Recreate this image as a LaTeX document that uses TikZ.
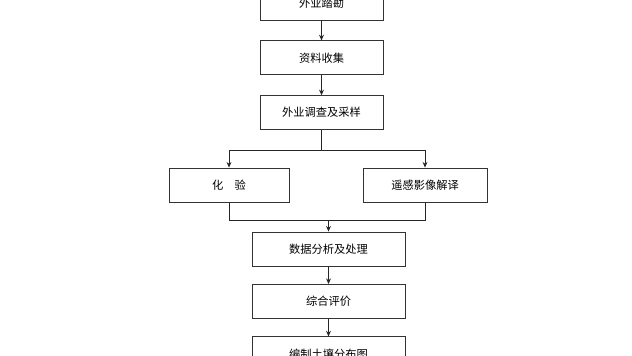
\documentclass[tikz,border=0pt]{standalone}
\usepackage{fontspec}
\newfontfamily\cjk{Noto Sans CJK SC}
\usepackage{tikz}
\usetikzlibrary{arrows.meta, positioning, calc}

\begin{document}
\begin{tikzpicture}[
    node distance=0.5cm,
    stepbox/.style={rectangle, draw=black!80, line width=0.6pt, minimum height=0.85cm, minimum width=3.075cm, align=center, font=\cjk\footnotesize},
    widebox/.style={stepbox, minimum width=3.825cm},
    arrowstyle/.style={-{Stealth[length=4pt,width=3.5pt]}, line width=0.6pt, black!85},
    linestyle/.style={line width=0.6pt, black!85}
]
\useasboundingbox (0,0) rectangle (15.8,-8.9);

\node[stepbox] (survey) at (8.0375,-0.075) {外业踏勘};
\node[stepbox, below=0.5cm of survey] (collect) {资料收集};
\node[stepbox, below=0.5cm of collect] (sample) {外业调查及采样};
\node[stepbox, minimum width=3.0cm] (assay) at (5.725,-4.625) {化\quad 验};
\node[stepbox, minimum width=3.1cm] (remote) at (10.625,-4.625) {遥感影像解译};
\node[widebox] (process) at (8.2125,-6.225) {数据分析及处理};
\node[widebox, below=0.44cm of process] (assess) {综合评价};
\node[widebox, below=0.44cm of assess] (mapping) {编制土壤分布图};

\coordinate (split) at ($(sample.south)+(0,-0.5)$);
\coordinate (merge) at ($(process.north)+(0,-0.0)+(0,0.27)$);

\draw[arrowstyle] (survey) -- (collect);
\draw[arrowstyle] (collect) -- (sample);
\draw[linestyle] (sample.south) -- (split);
\draw[arrowstyle] (split) -| (assay.north);
\draw[arrowstyle] (split) -| (remote.north);
\draw[linestyle] (assay.south) |- (merge) -| (remote.south);
\draw[arrowstyle] (merge) -- (process);
\draw[arrowstyle] (process) -- (assess);
\draw[arrowstyle] (assess) -- (mapping);
\end{tikzpicture}
\end{document}
